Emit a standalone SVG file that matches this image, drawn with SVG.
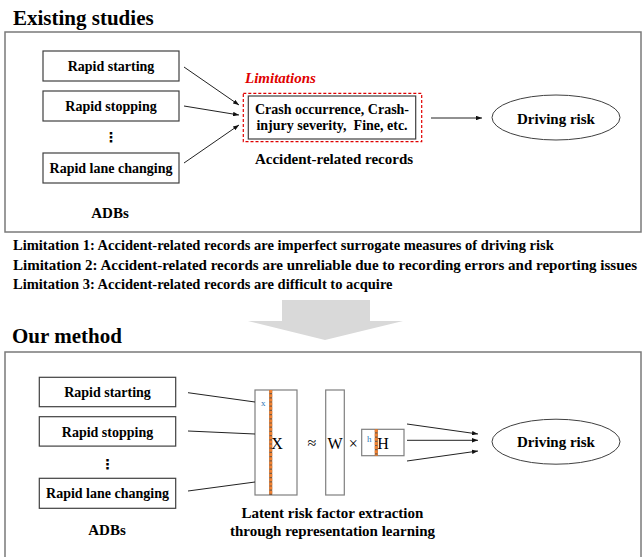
<svg xmlns="http://www.w3.org/2000/svg" width="642" height="557" viewBox="0 0 642 557">
<style>
text{font-family:'Liberation Serif','Times New Roman','DejaVu Serif',serif;font-weight:bold;fill:#000}
.t14{font-size:14px;text-anchor:middle}
.t15{font-size:15px;text-anchor:middle}
.title{font-size:21px}
.lim{font-size:14.5px}
.box{fill:#fff;stroke:#404040;stroke-width:1.2}
.frame{fill:none;stroke:#7a7a7a;stroke-width:1.5}
.mat{fill:#fff;stroke:#7f7f7f;stroke-width:1.2}
.conn{stroke:#222;stroke-width:1;fill:none}
.arr{marker-end:url(#ah)}
.dot{font-family:'DejaVu Serif','DejaVu Sans',serif;font-size:14px;text-anchor:middle}
.blue{font-weight:normal;fill:#2e75b6;font-size:9px;text-anchor:middle}
.sym{font-weight:normal;font-size:16px;text-anchor:middle}
</style>
<defs>
<marker id="ah" viewBox="0 0 8 6" refX="8" refY="3" markerWidth="6" markerHeight="4.5" markerUnits="userSpaceOnUse" orient="auto">
<path d="M0,0 L8,3 L0,6 Z" fill="#111"/>
</marker>
</defs>
<rect width="642" height="557" fill="#fff"/>
<g font-family="Liberation Serif, Times New Roman, serif">
<text class="title" x="13" y="25">Existing studies</text>
<rect class="frame" x="5" y="32" width="636" height="200"/>
<g id="limitations-text">
<text class="lim" x="13" y="250">Limitation 1: Accident-related records are imperfect surrogate measures of driving risk</text>
<text class="lim" x="13" y="269.5" textLength="624" lengthAdjust="spacingAndGlyphs">Limitation 2: Accident-related records are unreliable due to recording errors and reporting issues</text>
<text class="lim" x="13" y="289">Limitation 3: Accident-related records are difficult to acquire</text>
</g>
<path id="big-arrow" d="M282,300 H370 V321 H403 L325,340 L248,321 H282 Z" fill="#d9d9d9"/>
<text class="title" x="12" y="343">Our method</text>
<rect class="frame" x="5" y="352" width="636" height="210"/>

<g id="top-rapid-starting"><rect class="box" x="43" y="51" width="136" height="30"/><text class="t14" x="111" y="71">Rapid starting</text></g>
<g id="top-rapid-stopping"><rect class="box" x="43" y="91" width="136" height="30"/><text class="t14" x="111" y="111">Rapid stopping</text></g>
<g id="top-dots"><text class="dot" x="111" y="142">⋮</text></g>
<g id="top-rapid-lane"><rect class="box" x="43" y="153" width="136" height="30"/><text class="t14" x="111" y="173">Rapid lane changing</text></g>
<g id="top-adbs"><text class="t15" x="110" y="218">ADBs</text></g>
<g id="accident-records">
<text x="245" y="82.5" style="font-size:15px;font-style:italic;fill:#e00000">Limitations</text>
<rect x="243.3" y="93.3" width="178.4" height="48.4" fill="none" stroke="#e00000" stroke-width="1.2" stroke-dasharray="3,2"/>
<rect class="box" x="248.3" y="96" width="167.4" height="43" stroke-width="1.5"/>
<text class="t14" x="332" y="113.5">Crash occurrence, Crash-</text>
<text class="t14" x="332" y="130" style="white-space:pre">injury severity,  Fine, etc.</text>
<text class="t15" x="334" y="164">Accident-related records</text>
</g>
<g id="top-driving-risk"><ellipse cx="556" cy="117.5" rx="64" ry="22.5" fill="#fff" stroke="#404040" stroke-width="1"/><text class="t15" x="556" y="123.5">Driving risk</text></g>

<g id="bot-rapid-starting"><rect class="box" x="39.3" y="377.3" width="136.4" height="29.4"/><text class="t14" x="107.5" y="397">Rapid starting</text></g>
<g id="bot-rapid-stopping"><rect class="box" x="39.3" y="416.7" width="136.4" height="29.4"/><text class="t14" x="107.5" y="436.5">Rapid stopping</text></g>
<g id="bot-dots"><text class="dot" x="107.5" y="469">⋮</text></g>
<g id="bot-rapid-lane"><rect class="box" x="39.3" y="478.3" width="136.4" height="30"/><text class="t14" x="107.5" y="498.3">Rapid lane changing</text></g>
<g id="bot-adbs"><text class="t15" x="107" y="535">ADBs</text></g>

<g id="matrix-x">
<rect class="mat" x="255" y="390" width="42" height="105"/>
<line x1="270.7" y1="390" x2="270.7" y2="495" stroke="#7a5a40" stroke-width="3"/>
<line x1="270.7" y1="390" x2="270.7" y2="495" stroke="#f08030" stroke-width="3" stroke-dasharray="3,1.2"/>
<text class="blue" x="263.3" y="406">x</text>
<text class="sym" x="277" y="449">X</text>
</g>
<g id="approx"><text class="sym" x="312" y="448">≈</text></g>
<g id="matrix-w"><rect class="mat" x="325.7" y="390" width="18.6" height="105"/><text class="sym" x="335" y="449">W</text></g>
<g id="times"><text class="sym" x="353.3" y="449">×</text></g>
<g id="matrix-h">
<rect class="mat" x="361.7" y="429.3" width="42.3" height="26.4"/>
<line x1="376.3" y1="429.3" x2="376.3" y2="455.7" stroke="#7a5a40" stroke-width="3"/>
<line x1="376.3" y1="429.3" x2="376.3" y2="455.7" stroke="#f08030" stroke-width="3" stroke-dasharray="3,1.2"/>
<text class="blue" x="369.3" y="441.5">h</text>
<text class="sym" x="383" y="449">H</text>
</g>
<g id="latent-label">
<text class="t15" x="332.5" y="518">Latent risk factor extraction</text>
<text class="t15" x="332.5" y="536">through representation learning</text>
</g>
<g id="bot-driving-risk"><ellipse cx="556" cy="441.7" rx="64" ry="22.5" fill="#fff" stroke="#404040" stroke-width="1"/><text class="t15" x="556" y="447">Driving risk</text></g>

<g id="connectors">
<line class="conn arr" x1="184" y1="67" x2="239" y2="105"/>
<line class="conn arr" x1="184" y1="106" x2="239" y2="115"/>
<line class="conn arr" x1="184" y1="163" x2="239" y2="125"/>
<line class="conn arr" x1="431" y1="118" x2="482" y2="118"/>
<line class="conn" x1="188" y1="392.7" x2="255" y2="402"/>
<line class="conn" x1="188" y1="431" x2="255" y2="434"/>
<line class="conn" x1="188" y1="491" x2="255" y2="482"/>
<line class="conn arr" x1="407" y1="424" x2="478" y2="434"/>
<line class="conn arr" x1="407" y1="440.3" x2="478" y2="440.3"/>
<line class="conn arr" x1="407" y1="461" x2="478" y2="451"/>
</g>
</g>
</svg>
